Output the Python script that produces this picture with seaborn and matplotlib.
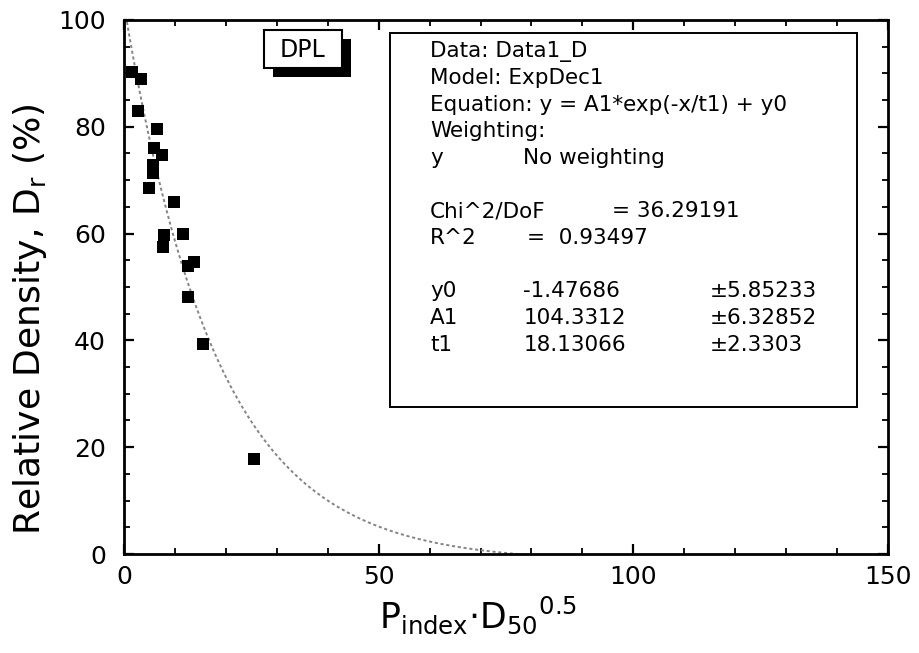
import numpy as np
import matplotlib
matplotlib.use("Agg")
import matplotlib.pyplot as plt
from matplotlib.patches import Rectangle
from matplotlib.ticker import MultipleLocator
import seaborn as sns

# Measured points: P_index * D50^0.5 against relative density (%)
pd50 = [1.6, 3.3, 2.8, 6.4, 5.8, 7.4, 5.6, 5.6, 4.9, 9.9,
        7.9, 7.7, 11.6, 12.6, 13.8, 12.6, 15.5, 25.6]
dr = [90.3, 88.9, 83.0, 79.6, 76.0, 74.7, 72.8, 71.3, 68.5, 65.9,
      59.7, 57.5, 60.0, 53.9, 54.7, 48.1, 39.3, 17.8]

# ExpDec1 fit results
y0, y0_err = -1.47686, 5.85233
A1, A1_err = 104.3312, 6.32852
t1, t1_err = 18.13066, 2.3303
chi2_dof = 36.29191
r2 = 0.93497

x_ticks = [0, 50, 100, 150]
y_ticks = [0, 20, 40, 60, 80, 100]

sns.set_style("ticks")
plt.rcParams["font.family"] = ["DejaVu Sans"]
plt.rcParams["mathtext.fontset"] = "dejavusans"
for key in ("text.color", "axes.labelcolor", "xtick.color", "ytick.color",
            "axes.edgecolor"):
    plt.rcParams[key] = "black"

fig = plt.figure(figsize=(9.2, 6.53), dpi=100)
ax = fig.add_axes([0.1348, 0.1516, 0.8304, 0.8178])

# fitted curve y = A1*exp(-x/t1) + y0
x_fit = np.linspace(0, 150, 800)
y_fit = A1 * np.exp(-x_fit / t1) + y0
sns.lineplot(x=x_fit, y=y_fit, ax=ax, color="#858585", lw=1.4,
             linestyle=(0, (1.6, 1.4)), zorder=2)

sns.scatterplot(x=pd50, y=dr, ax=ax, marker="s", s=74, color="black",
                linewidth=0, zorder=3)

ax.set_xlim(0, 150)
ax.set_ylim(0, 100)
ax.set_xticks(x_ticks)
ax.set_yticks(y_ticks)
ax.xaxis.set_minor_locator(MultipleLocator(10))
ax.yaxis.set_minor_locator(MultipleLocator(5))
ax.tick_params(which="both", direction="in", top=True, right=True,
               color="black", labelcolor="black")
ax.tick_params(which="major", length=7.5, width=1.6, labelsize=18)
ax.tick_params(which="minor", length=4, width=1.3)
ax.tick_params(axis="y", which="major", pad=13)
ax.tick_params(axis="x", which="major", pad=8)
for sp in ax.spines.values():
    sp.set_linewidth(2)
    sp.set_color("black")

ax.set_xlabel("")
ax.set_ylabel("")
ax.text(-0.123, 0.44, r"Relative Density, $\mathregular{D_r}$ (%)",
        transform=ax.transAxes, rotation=90, ha="center", va="center",
        fontsize=26)
ax.text(0.4634, -0.1386,
        r"$\mathregular{P_{index}{\cdot}D_{50}{}^{0.5}}$",
        transform=ax.transAxes, ha="center", va="baseline", fontsize=25)

# DPL tag with drop shadow
ax.add_patch(Rectangle((0.1950, 0.8927), 0.1017, 0.0717,
                       transform=ax.transAxes, facecolor="black",
                       edgecolor="black", lw=0, zorder=4, clip_on=False))
ax.add_patch(Rectangle((0.1832, 0.9096), 0.1018, 0.0717,
                       transform=ax.transAxes, facecolor="white",
                       edgecolor="black", lw=1.5, zorder=5, clip_on=False))
ax.text(0.2337, 0.9438, "DPL", transform=ax.transAxes, ha="center",
        va="center", fontsize=17, zorder=6)

# fit report box
ax.add_patch(Rectangle((0.3482, 0.2758), 0.6108, 0.6993,
                       transform=ax.transAxes, facecolor="white",
                       edgecolor="black", lw=1.4, zorder=4))
fs = 15.5
c0, c1, c2, c3 = 0.4005, 0.5225, 0.6384, 0.767
rows = [
    (0.930, [(c0, "Data: Data1_D")]),
    (0.880, [(c0, "Model: ExpDec1")]),
    (0.830, [(c0, "Equation: y = A1*exp(-x/t1) + y0")]),
    (0.780, [(c0, "Weighting:")]),
    (0.730, [(c0, "y"), (c1, "No weighting")]),
    (0.6305, [(c0, "Chi^2/DoF"), (c2, f"= {chi2_dof:.5f}")]),
    (0.5805, [(c0, "R^2"), (0.5277, f"=  {r2:.5f}")]),
    (0.4807, [(c0, "y0"), (c1, f"{y0:.5f}"), (c3, f"\u00b1{y0_err:.5f}")]),
    (0.4307, [(c0, "A1"), (c1, f"{A1:.4f}"), (c3, f"\u00b1{A1_err:.5f}")]),
    (0.3807, [(c0, "t1"), (c1, f"{t1:.5f}"), (c3, f"\u00b1{t1_err:.4f}")]),
]
for yy, cells in rows:
    for xx, s in cells:
        ax.text(xx, yy, s, transform=ax.transAxes, ha="left",
                va="baseline", fontsize=fs, zorder=6)

fig.savefig("out.png", dpi=100, facecolor="white")
